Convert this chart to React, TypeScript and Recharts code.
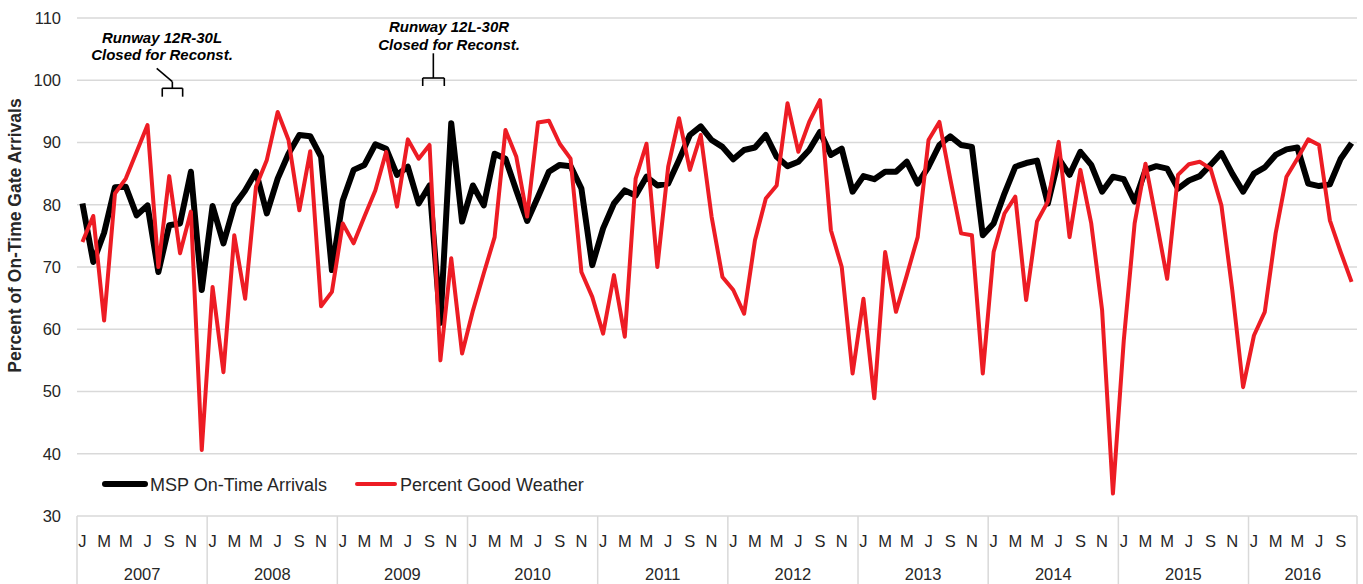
import React from 'react';
import {
  LineChart,
  Line,
  XAxis,
  YAxis,
  CartesianGrid,
  Legend,
  ReferenceLine,
  ReferenceDot,
} from 'recharts';

// ---------- categories ----------
const years = ['2007', '2008', '2009', '2010', '2011', '2012', '2013', '2014', '2015', '2016'];
const monthsPerYear = [12, 12, 12, 12, 12, 12, 12, 12, 12, 10];
const monthLetters = ['J', 'F', 'M', 'A', 'M', 'J', 'J', 'A', 'S', 'O', 'N', 'D'];
const yTicks = [30, 40, 50, 60, 70, 80, 90, 100, 110];

// ---------- series ----------
const seriesNames = ['MSP On-Time Arrivals', 'Percent Good Weather'];
const seriesColors = ['#000000', '#ED1C24'];

const onTimeArrivals = [
  80.2, 70.8, 75.5, 82.8, 82.9, 78.3, 79.9, 69.2, 76.7, 77.0, 85.3, 66.3,
  79.8, 73.8, 79.9, 82.3, 85.3, 78.6, 84.2, 88.2, 91.2, 91.0, 87.7, 69.5,
  80.7, 85.6, 86.4, 89.7, 89.0, 84.8, 86.1, 80.2, 83.1, 61.0, 93.1, 77.3,
  83.1, 79.9, 88.2, 87.4, 82.3, 77.4, 81.3, 85.3, 86.4, 86.2, 82.6, 70.3,
  76.2, 80.2, 82.3, 81.5, 84.5, 83.1, 83.4, 87.2, 91.2, 92.6, 90.4, 89.3,
  87.3, 88.8, 89.2, 91.2, 87.7, 86.2, 86.9, 88.8, 91.7, 88.0, 89.0, 82.1,
  84.6, 84.1, 85.3, 85.3, 86.9, 83.4, 86.1, 89.6, 91.0, 89.6, 89.3, 75.1,
  77.0, 81.8, 86.1, 86.7, 87.1, 80.2, 87.4, 84.8, 88.5, 86.4, 82.1, 84.5,
  84.1, 80.5, 85.6, 86.2, 85.8, 82.6, 83.9, 84.6, 86.4, 88.3, 85.0, 82.1,
  85.0, 86.0, 88.0, 88.9, 89.2, 83.4, 83.0, 83.3, 87.4, 89.9,
];

const goodWeather = [
  74.0, 78.2, 61.4, 81.8, 84.2, 88.5, 92.8, 70.0, 84.6, 72.2, 78.9, 40.6,
  66.8, 53.1, 75.1, 64.9, 82.9, 87.2, 94.9, 90.4, 79.1, 88.6, 63.7, 66.0,
  77.0, 73.8, 78.1, 82.3, 88.5, 79.7, 90.5, 87.4, 89.6, 55.0, 71.4, 56.1,
  63.0, 69.0, 74.8, 92.0, 87.7, 78.1, 93.2, 93.5, 89.8, 87.4, 69.2, 65.2,
  59.3, 68.7, 58.8, 84.2, 89.8, 70.0, 86.1, 93.9, 85.6, 91.2, 78.1, 68.4,
  66.3, 62.5, 74.3, 81.0, 83.1, 96.3, 88.5, 93.3, 96.8, 75.9, 70.0, 52.9,
  64.9, 48.9, 72.4, 62.8, 68.7, 74.8, 90.4, 93.3, 84.2, 75.4, 75.1, 52.9,
  72.4, 78.6, 81.3, 64.7, 77.3, 80.5, 90.1, 74.8, 85.6, 77.0, 63.1, 33.6,
  58.2, 77.0, 86.6, 77.5, 68.1, 84.8, 86.5, 86.9, 85.8, 79.9, 66.3, 50.7,
  59.0, 62.8, 75.4, 84.5, 87.4, 90.5, 89.6, 77.5, 72.4, 67.6,
];

// ---------- annotations (month-index / percent coordinates) ----------
const annotationText = [
  ['Runway 12R-30L', 'Closed for Reconst.'],
  ['Runway 12L-30R', 'Closed for Reconst.'],
];
const annotationX = [7.34, 33.8];
const annotationY = [106.03, 107.7];
// brace segments: [x1, y1, x2, y2]
const braceSegments = [
  [7.36, 97.36, 7.36, 98.71],
  [7.36, 98.71, 9.24, 98.71],
  [9.24, 98.71, 9.24, 97.36],
  [8.29, 98.71, 8.29, 99.77],
  [8.29, 99.77, 6.85, 101.92],
  [31.37, 99.08, 31.37, 100.36],
  [31.37, 100.36, 33.36, 100.36],
  [33.36, 100.36, 33.36, 99.08],
  [32.35, 100.36, 32.35, 104.33],
];

// ---------- derived table ----------
const data = onTimeArrivals.map((v, i) => ({
  idx: i,
  onTime: v,
  weather: goodWeather[i],
}));

type TickInfo = { kind: 'month' | 'boundary' | 'year'; label: string };
const tickInfo = new Map<number, TickInfo>();
{
  let start = 0;
  years.forEach((yr, yi) => {
    const n = monthsPerYear[yi];
    tickInfo.set(start - 0.5, { kind: 'boundary', label: '' });
    for (let m = 0; m < n; m++) {
      tickInfo.set(start + m, { kind: 'month', label: m % 2 === 0 ? monthLetters[m] : '' });
    }
    tickInfo.set(start + (n - 1) / 2, { kind: 'year', label: yr });
    start += n;
  });
  tickInfo.set(start - 0.5, { kind: 'boundary', label: '' });
}
const xTicks = Array.from(tickInfo.keys()).sort((a, b) => a - b);
const totalMonths = onTimeArrivals.length;

const FONT = '"Liberation Sans", Arial, sans-serif';
const TEXT = '#262626';

const XTick = (props: any) => {
  const { x, y, payload } = props;
  const info = tickInfo.get(payload.value);
  if (!info) return <g />;
  if (info.kind === 'boundary') {
    return <line x1={x} x2={x} y1={y} y2={y + 72} stroke="#d9d9d9" strokeWidth={1.5} />;
  }
  if (info.kind === 'month') {
    return (
      <text x={x} y={y + 31} textAnchor="middle" fontSize={16.5} fontFamily={FONT} fill={TEXT}>
        {info.label}
      </text>
    );
  }
  return (
    <text x={x} y={y + 64} textAnchor="middle" fontSize={16.5} fontFamily={FONT} fill={TEXT}>
      {info.label}
    </text>
  );
};

const YLabel = (props: any) => {
  const vb = props.viewBox || { x: 0, y: 18, width: 77, height: 498 };
  const cx = vb.x + 21;
  const cy = vb.y + vb.height / 2 - 31.5;
  return (
    <text
      x={cx}
      y={cy}
      transform={`rotate(-90, ${cx}, ${cy})`}
      textAnchor="middle"
      fontSize={17.5}
      fontWeight="bold"
      fontFamily={FONT}
      fill={TEXT}
    >
      Percent of On-Time Gate Arrivals
    </text>
  );
};

const makeAnnotationLabel = (lines: string[]) => (props: any) => {
  const vb = props.viewBox || { x: 0, y: 0 };
  return (
    <text
      x={vb.x}
      y={vb.y}
      textAnchor="middle"
      fontSize={15}
      fontWeight="bold"
      fontStyle="italic"
      fontFamily={FONT}
      fill="#000"
    >
      {lines.map((l, i) => (
        <tspan key={i} x={vb.x} dy={i === 0 ? 0 : 17.4}>
          {l}
        </tspan>
      ))}
    </text>
  );
};

const LegendContent = () => (
  <svg width={520} height={30} style={{ display: 'block' }}>
    <line x1={5} x2={45} y1={15} y2={15} stroke={seriesColors[0]} strokeWidth={6} strokeLinecap="round" />
    <text x={50} y={21.5} fontSize={18} fontFamily={FONT} fill={TEXT}>
      {seriesNames[0]}
    </text>
    <line x1={257} x2={295} y1={15} y2={15} stroke={seriesColors[1]} strokeWidth={4} strokeLinecap="round" />
    <text x={300} y={21.5} fontSize={18} fontFamily={FONT} fill={TEXT}>
      {seriesNames[1]}
    </text>
  </svg>
);

export default function App() {
  return (
    <div
      style={{
        position: 'absolute',
        left: 0,
        top: 0,
        width: 1363,
        height: 584,
        background: '#fff',
        fontFamily: FONT,
      }}
    >
      <LineChart
        width={1363}
        height={584}
        data={data}
        margin={{ top: 18, right: 6, left: 0, bottom: 0 }}
      >
        <CartesianGrid vertical={false} stroke="#d9d9d9" strokeWidth={1.5} />
        <XAxis
          dataKey="idx"
          type="number"
          domain={[-0.5, totalMonths - 0.5]}
          ticks={xTicks}
          interval={0}
          axisLine={false}
          tickLine={false}
          tickSize={0}
          tickMargin={0}
          height={68}
          tick={XTick}
          allowDecimals
        />
        <YAxis
          domain={[30, 110]}
          ticks={yTicks}
          interval={0}
          width={77}
          axisLine={false}
          tickLine={false}
          tickMargin={10}
          tick={{ fontSize: 16.5, fill: TEXT, fontFamily: FONT }}
          label={{ content: YLabel }}
        />
        <Legend
          verticalAlign="middle"
          align="center"
          layout="horizontal"
          wrapperStyle={{ left: 100, top: 469, width: 520, height: 30 }}
          content={LegendContent}
        />
        <Line
          type="linear"
          dataKey="onTime"
          name={seriesNames[0]}
          stroke={seriesColors[0]}
          strokeWidth={6}
          strokeLinejoin="round"
          dot={false}
          activeDot={false}
          isAnimationActive={false}
        />
        <Line
          type="linear"
          dataKey="weather"
          name={seriesNames[1]}
          stroke={seriesColors[1]}
          strokeWidth={4}
          strokeLinejoin="round"
          dot={false}
          activeDot={false}
          isAnimationActive={false}
        />
        {braceSegments.map((s, i) => (
          <ReferenceLine
            key={`b${i}`}
            segment={[
              { x: s[0], y: s[1] },
              { x: s[2], y: s[3] },
            ]}
            stroke="#000"
            strokeWidth={1.6}
            ifOverflow="visible"
          />
        ))}
        {annotationText.map((lines, i) => (
          <ReferenceDot
            key={`a${i}`}
            x={annotationX[i]}
            y={annotationY[i]}
            r={0}
            stroke="none"
            fill="none"
            ifOverflow="visible"
            label={{ content: makeAnnotationLabel(lines) }}
          />
        ))}
      </LineChart>
    </div>
  );
}
